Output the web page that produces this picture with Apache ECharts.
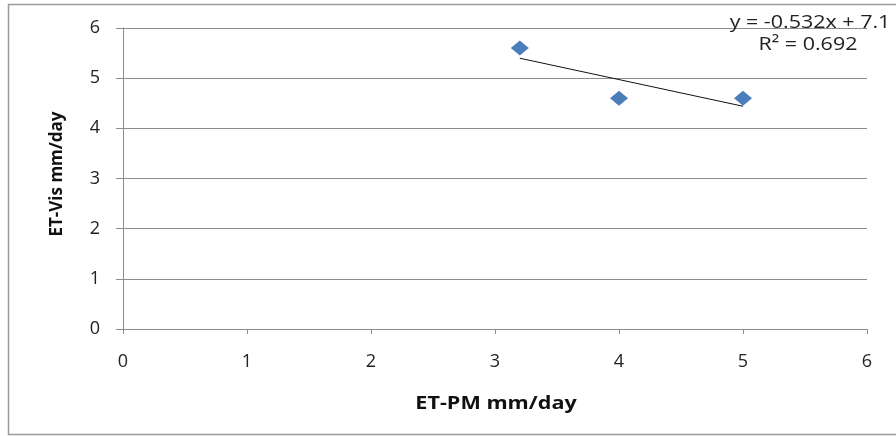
<!DOCTYPE html>
<html><head><meta charset="utf-8">
<script src="https://cdn.jsdelivr.net/npm/echarts@6/dist/echarts.min.js"></script>
<style>html,body{margin:0;padding:0;background:#fff}#c{width:896px;height:436px}</style>
</head><body><div id="c"></div>
<script>
var etPM = [3.2, 4, 5];
var etVis = [5.6, 4.6, 4.6];
var xTicks = [0, 1, 2, 3, 4, 5, 6];
var yTicks = [0, 1, 2, 3, 4, 5, 6];
var xTitle = 'ET-PM mm/day';
var yTitle = 'ET-Vis mm/day';
var trendSlope = -0.532;
var trendIntercept = 7.1;
var r2Value = '0.692';

var xmin = Math.min.apply(null, etPM), xmax = Math.max.apply(null, etPM);
var trend = [[xmin, trendSlope*xmin+trendIntercept], [xmax, trendSlope*xmax+trendIntercept]];
var eqText = 'y = ' + trendSlope.toFixed(3) + 'x + ' + trendIntercept.toFixed(1);
var r2Text = 'R\u00B2 = ' + r2Value;

var chart = echarts.init(document.getElementById('c'));
var font = '"Open Sans", "Noto Sans", sans-serif';
chart.setOption({
  animation: false,
  textStyle: { fontFamily: font },
  grid: { left: 123, right: 29, top: 28, bottom: 107 },
  graphic: [
    { type: 'rect', shape: { x: 8.5, y: 4.5, width: 900, height: 430 }, style: { fill: 'none', stroke: '#9a9a9a', lineWidth: 1.5 }, z: 0 },
    { type: 'text', x: 810, y: 23, scaleX: 1.13, style: { text: eqText, font: '19px ' + font, fill: '#222', align: 'center', verticalAlign: 'middle' }, z: 10 },
    { type: 'text', x: 808, y: 45, scaleX: 1.13, style: { text: r2Text, font: '19px ' + font, fill: '#222', align: 'center', verticalAlign: 'middle' }, z: 10 },
    { type: 'text', x: 496, y: 404, scaleX: 1.2, style: { text: xTitle, font: 'bold 18px ' + font, fill: '#111', align: 'center', verticalAlign: 'middle' }, z: 10 },
    { type: 'text', x: 57, y: 174, rotation: Math.PI/2, style: { text: yTitle, font: 'bold 17px ' + font, fill: '#111', align: 'center', verticalAlign: 'middle' }, z: 10 }
  ],
  xAxis: {
    type: 'value', min: xTicks[0], max: xTicks[xTicks.length-1], interval: 1,
    axisLine: { show: true, lineStyle: { color: '#8c8c8c', width: 1 } },
    axisTick: { show: true, length: 5, lineStyle: { color: '#8c8c8c' } },
    axisLabel: { fontSize: 18, color: '#222', margin: 24, fontFamily: font },
    splitLine: { show: false }
  },
  yAxis: {
    type: 'value', min: yTicks[0], max: yTicks[yTicks.length-1], interval: 1,
    axisLine: { show: true, lineStyle: { color: '#8c8c8c', width: 1 } },
    axisTick: { show: true, length: 7, lineStyle: { color: '#8c8c8c' } },
    axisLabel: { fontSize: 18, color: '#222', margin: 23, fontFamily: font },
    splitLine: { show: true, lineStyle: { color: '#8c8c8c', width: 1 } }
  },
  series: [
    { type: 'line', data: trend, symbol: 'none', lineStyle: { color: '#111', width: 1 }, z: 3, silent: true },
    { type: 'scatter', data: etPM.map(function(x, i){ return [x, etVis[i]]; }), symbol: 'diamond', symbolSize: [18, 15],
      itemStyle: { color: '#4A7EBB', opacity: 1 }, z: 4 }
  ]
});
</script></body></html>
